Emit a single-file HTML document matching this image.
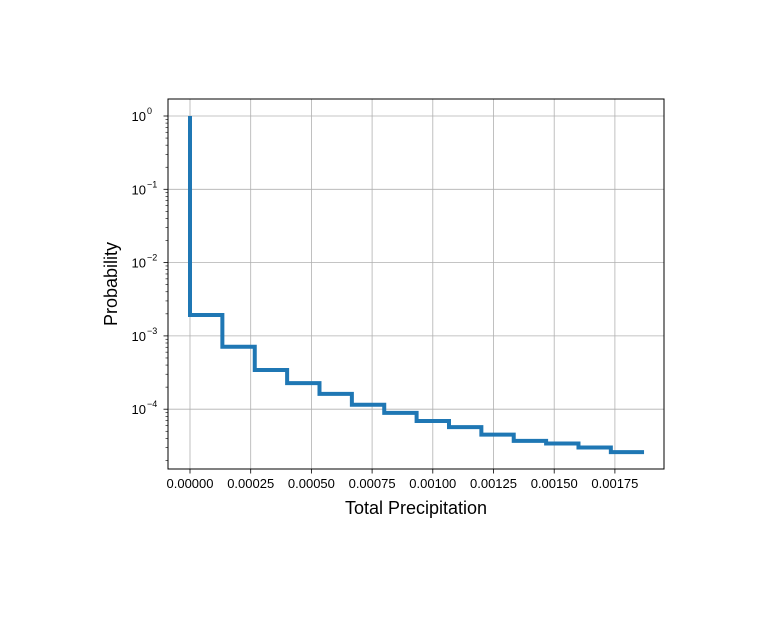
<!DOCTYPE html>
<html><head><meta charset="utf-8"><style>
body{margin:0;background:#fff;}
svg{font-family:"Liberation Sans","DejaVu Sans",sans-serif;}
</style></head><body>
<svg id="chart" width="763" height="617" viewBox="0 0 763 617" xmlns="http://www.w3.org/2000/svg">
<rect width="763" height="617" fill="#fff"/>
<g id="grid"></g>
<g id="series"></g>
<rect x="168" y="99" width="496" height="370" fill="none" stroke="#000" stroke-width="1"/>
<g id="xticks"></g>
<g id="yticks"></g>
<text x="416" y="514" font-size="18" text-anchor="middle">Total Precipitation</text>
<text x="0" y="0" font-size="18" text-anchor="middle" transform="translate(117,284) rotate(-90)">Probability</text>
</svg>
<script>
const xEdges=[0,0.0001333,0.0002667,0.0004,0.0005333,0.0006667,0.0008,0.0009333,0.0010667,0.0012,0.0013333,0.0014667,0.0016,0.0017333,0.00187];
const probs=[0.00193,0.00071,0.000343,0.000227,0.000162,0.000115,0.000089,0.000069,0.000057,0.000045,0.000037,0.000034,0.00003,0.000026];
const startProb=1;
const xTickVals=[0,0.00025,0.0005,0.00075,0.001,0.00125,0.0015,0.00175];
const xTickLabels=["0.00000","0.00025","0.00050","0.00075","0.00100","0.00125","0.00150","0.00175"];
const yTickExps=[0,-1,-2,-3,-4];
const minorMults=[2,3,4,5,6,7,8,9];
const minorExps=[-5,-4,-3,-2,-1];
const NS="http://www.w3.org/2000/svg";
const X=v=>190+v/0.00025*60.7;
const Y=p=>116-Math.log10(p)*73.3;
function mk(t,a,parent){const e=document.createElementNS(NS,t);for(const k in a)e.setAttribute(k,a[k]);parent.appendChild(e);return e;}
const grid=document.getElementById('grid'),xt=document.getElementById('xticks'),yt=document.getElementById('yticks'),ser=document.getElementById('series');
xTickVals.forEach((v,i)=>{
  const g=mk('line',{x1:X(v),x2:X(v),y1:99,y2:469,stroke:'#b0b0b0','stroke-width':0.8},grid);
  
  const t=mk('line',{x1:X(v),x2:X(v),y1:469,y2:473.5,stroke:'#000','stroke-width':0.8},xt);
  
  const l=mk('text',{x:X(v),y:488,'font-size':13,'text-anchor':'middle'},xt);l.textContent=xTickLabels[i];
  
});
yTickExps.forEach(e=>{
  const y=Y(Math.pow(10,e));
  const g=mk('line',{x1:168,x2:664,y1:y,y2:y,stroke:'#b0b0b0','stroke-width':0.8},grid);
  
  const t=mk('line',{x1:163.5,x2:168,y1:y,y2:y,stroke:'#000','stroke-width':0.8},yt);
  
  const l=mk('text',{x:146,y:y+5,'font-size':13,'text-anchor':'end'},yt);l.textContent='10';
  
  const s=mk('text',{x:147,y:y-2,'font-size':9,'text-anchor':'start'},yt);s.textContent=String(e).replace('-','−');
  
});
minorExps.forEach(e=>{minorMults.forEach(m=>{
  const y=Y(m*Math.pow(10,e));
  if(y<99||y>469)return;
  const t=mk('line',{x1:165.5,x2:168,y1:y,y2:y,stroke:'#000','stroke-width':0.6},yt);
  
});});
let d='M'+X(0)+','+Y(startProb);
probs.forEach((p,i)=>{d+=' L'+X(xEdges[i])+','+Y(p)+' L'+X(xEdges[i+1])+','+Y(p);});
const path=mk('path',{d:d,fill:'none',stroke:'#1f77b4','stroke-width':4},ser);


</script>
</body></html>
